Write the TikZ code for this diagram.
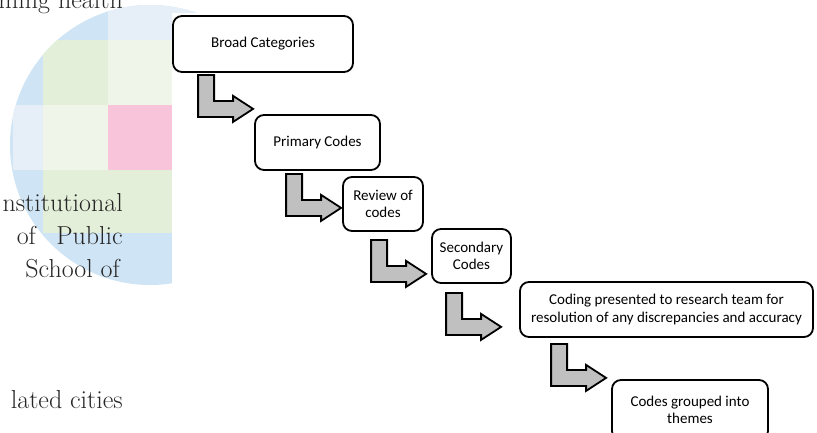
\documentclass[tikz,border=0pt]{standalone}
\usepackage{fontspec}
\newfontfamily\boxfont{Carlito}
\usetikzlibrary{calc}
\definecolor{arrowgray}{RGB}{192,192,192}
\definecolor{logoblue}{RGB}{207,228,244}
\definecolor{logolav}{RGB}{230,238,248}
\definecolor{logogreen}{RGB}{227,239,216}
\definecolor{logopale}{RGB}{240,245,234}
\definecolor{logopink}{RGB}{248,196,217}
\definecolor{logosand}{RGB}{236,230,222}
\tikzset{
  stage/.style={draw, line width=1.8pt, rounded corners=9pt, align=center,
    inner sep=0pt, font=\boxfont\fontsize{15}{17.5}\selectfont},
  pagetext/.style={anchor=base east, inner sep=0pt, text=black!85,
    font=\fontsize{26}{34}\selectfont},
  bendarrow/.pic={
    \draw[line width=1.8pt, fill=arrowgray] (0,0) -- (16,0) -- (16,26)
      -- (35,26) -- (35,21) -- (55,34) -- (35,47) -- (35,42) -- (0,42) -- cycle;
  }
}
\begin{document}
\begin{tikzpicture}[x=1pt, y=-1pt]
  \useasboundingbox (0,0) rectangle (817,432);
  \begin{scope}
    \clip (150,145) circle (140pt);
    \fill[logoblue] (0,0) rectangle (300,300);
    \fill[logolav] (108,0) rectangle (300,40);
    \fill[logogreen] (43,40) rectangle (108,105);
    \fill[logopale] (108,40) rectangle (300,105);
    \fill[logolav] (13,105) rectangle (43,170);
    \fill[logopale] (43,105) rectangle (108,170);
    \fill[logopink] (108,105) rectangle (300,170);
    \fill[logosand] (108,170) rectangle (300,177);
    \fill[logogreen] (43,170) rectangle (300,233);
  \end{scope}
  \fill[white] (172,13) rectangle (817,440);

  \node[pagetext] (t1) at (123,8) {ming health};
  \node[pagetext] (t2) at (123,211) {nstitutional};
  \node[pagetext] (t3) at (123,244) {\makebox[106pt][s]{of Public}};
  \node[pagetext] (t4) at (120,277) {School of};
  \node[pagetext] (t5) at (123,408) {lated cities};

  \node[stage, minimum width=180pt, minimum height=56pt] (broad) at (263,44) {Broad Categories};
  \node[stage, minimum width=125pt, minimum height=55pt] (primary) at (317.5,142.5) {Primary Codes};
  \node[stage, minimum width=80pt, minimum height=54pt] (review) at (383,204) {Review of\\codes};
  \node[stage, minimum width=79pt, minimum height=54pt] (secondary) at (471.5,256) {Secondary\\Codes};
  \node[stage, minimum width=293pt, minimum height=55pt] (team) at (666.5,309.5)
    {Coding presented to research team for\\resolution of any discrepancies and accuracy};
  \node[stage, minimum width=156pt, minimum height=60pt] (themes) at (690,410) {Codes grouped into\\themes};

  \pic at ($(broad.south west)+(26,2)$) {bendarrow};
  \pic at ($(primary.south west)+(32,3)$) {bendarrow};
  \pic at ($(review.south west)+(29,8)$) {bendarrow};
  \pic at ($(secondary.south west)+(15,9)$) {bendarrow};
  \pic at ($(team.south west)+(32,6)$) {bendarrow};
\end{tikzpicture}
\end{document}
